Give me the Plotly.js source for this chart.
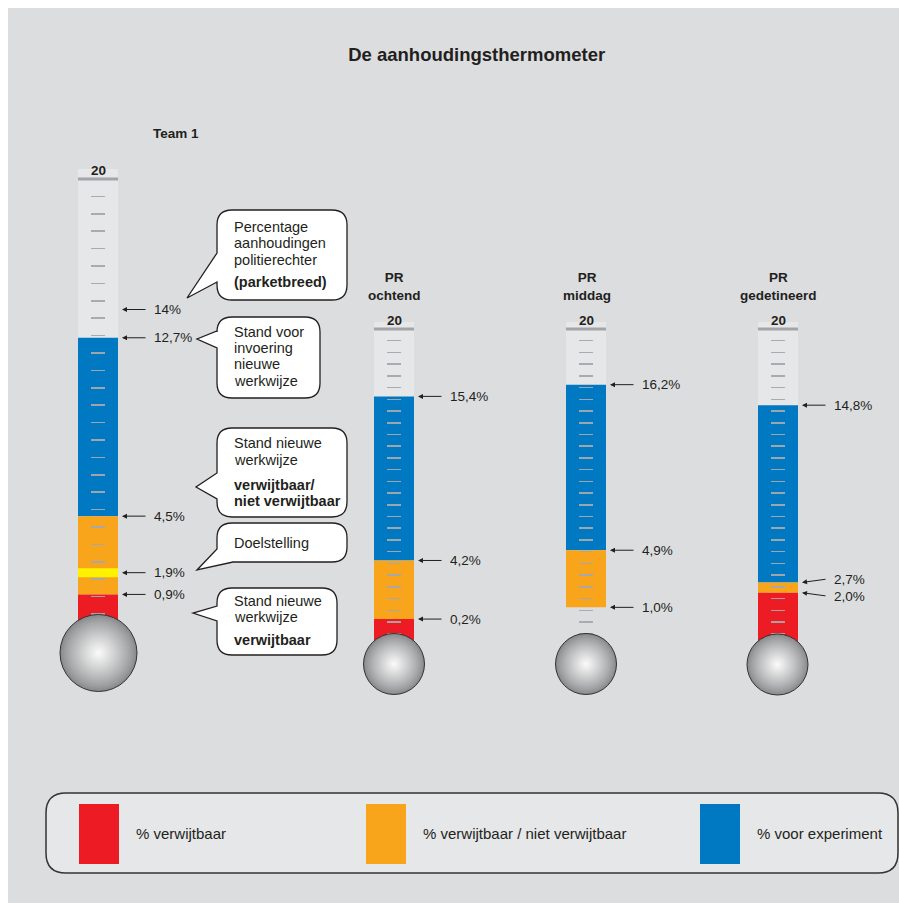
<!DOCTYPE html>
<html><head><meta charset="utf-8">
<script src="https://cdn.plot.ly/plotly-3.0.1.min.js"></script>
<style>html,body{margin:0;padding:0;background:#fff}</style>
</head><body><div id="chart" style="width:899px;height:903px"></div>
<script>
// ---------------- DATA ----------------
const categories = ["Team 1", "PR ochtend", "PR middag", "PR gedetineerd"];
const categoryTitles = ["Team 1", "PR<br>ochtend", "PR<br>middag", "PR<br>gedetineerd"];
const verwijtbaar      = [0.9, 0.2, null, 2.0];   // red: % verwijtbaar
const ondergrens       = [0.9, 0.2, 1.0, 2.0];    // bottom of orange band
const verwijtbaarNiet  = [4.5, 4.2, 4.9, 2.7];    // orange top: % verwijtbaar / niet verwijtbaar
const voorExperiment   = [12.7, 15.4, 16.2, 14.8];// blue top: % voor experiment
const doelstelling     = [1.9, null, null, null];
const parketbreed      = [14, null, null, null];
const scaleMax = 20;
const scaleStep = 0.8;
const chartTitle = "De aanhoudingsthermometer";
const legendLabels = ["% verwijtbaar", "% verwijtbaar / niet verwijtbaar", "% voor experiment"];
const calloutTexts = [
  [["Percentage", false], ["aanhoudingen", false], ["politierechter", false], ["(parketbreed)", true]],
  [["Stand voor", false], ["invoering", false], ["nieuwe", false], ["werkwijze", false]],
  [["Stand nieuwe", false], ["werkwijze", false], ["verwijtbaar/", true], ["niet verwijtbaar", true]],
  [["Doelstelling", false]],
  [["Stand nieuwe", false], ["werkwijze", false], ["verwijtbaar", true]]
];

// ---------------- STYLE / LAYOUT ----------------
const W = 899, H = 903;
const PX = x => x / W;
const PY = y => 1 - y / H;
const FONT = "Liberation Sans, Arial, Helvetica, sans-serif";
const TXT = "#231f20";
const C = {red: "#ed1c24", orange: "#f8a51b", blue: "#0079c2", yellow: "#fff200",
           tube: "#e6e7e8", bg: "#dcdddf", tick: "rgba(165,168,172,0.95)"};

const geom = [
  {x0: 78,  x1: 118, zero: 614, ppu: 21.75, top: 169, bottom: 632, bulb: [98.5, 653, 38.5], title: [176, 133]},
  {x0: 374, x1: 414, zero: 622, ppu: 14.65, top: 322, bottom: 646, bulb: [394, 664, 30.5], title: [394, 286.5]},
  {x0: 566, x1: 606, zero: 622, ppu: 14.65, top: 322, bottom: 646, bulb: [586, 664, 30.5], title: [586.5, 286.5]},
  {x0: 758, x1: 798, zero: 622, ppu: 14.65, top: 322, bottom: 646, bulb: [777.5, 664.5, 30.5], title: [778, 286.5]}
];
const MIN_LABEL_GAP = 17;

const callouts = [
  {box: [217, 210, 347, 300], ptr: {ya: 253, yb: 282, tx: 187, ty: 298}, lines: [226.5, 243, 260, 282]},
  {box: [217, 317, 320, 398], ptr: {ya: 331, yb: 348, tx: 197, ty: 339}, lines: [331.5, 348.3, 364.5, 380.7]},
  {box: [217, 428, 347, 517], ptr: {ya: 473, yb: 499, tx: 196, ty: 487}, lines: [443.3, 460, 485, 500.7]},
  {box: [217, 523, 347, 562], ptr: {ya: 549, bx: 233, tx: 197, ty: 570}, lines: [543]},
  {box: [217, 588, 337, 655], ptr: {ya: 606, yb: 621, tx: 193, ty: 613}, lines: [600.7, 616.7, 640]}
];

const legendGeom = {box: [46, 793, 898, 873], squares: [79, 366, 700], sqW: 40, sqY: [804, 864], textY: 833};

function P(x, y) { return PX(x).toFixed(5) + "," + PY(y).toFixed(5); }
function roundRect(x0, y0, x1, y1, r) {
  return "M" + P(x0 + r, y0) + " L" + P(x1 - r, y0) + " Q" + P(x1, y0) + " " + P(x1, y0 + r) +
    " L" + P(x1, y1 - r) + " Q" + P(x1, y1) + " " + P(x1 - r, y1) +
    " L" + P(x0 + r, y1) + " Q" + P(x0, y1) + " " + P(x0, y1 - r) +
    " L" + P(x0, y0 + r) + " Q" + P(x0, y0) + " " + P(x0 + r, y0) + " Z";
}
function bubble(b, p, r) {
  const [x0, y0, x1, y1] = b;
  let d = "M" + P(x0 + r, y0) + " L" + P(x1 - r, y0) + " Q" + P(x1, y0) + " " + P(x1, y0 + r) +
    " L" + P(x1, y1 - r) + " Q" + P(x1, y1) + " " + P(x1 - r, y1);
  if (p.bx !== undefined) {
    d += " L" + P(p.bx, y1) + " L" + P(p.tx, p.ty) + " L" + P(x0, p.ya);
  } else {
    d += " L" + P(x0 + r, y1) + " Q" + P(x0, y1) + " " + P(x0, y1 - r) +
      " L" + P(x0, p.yb) + " L" + P(p.tx, p.ty) + " L" + P(x0, p.ya);
  }
  d += " L" + P(x0, y0 + r) + " Q" + P(x0, y0) + " " + P(x0 + r, y0) + " Z";
  return d;
}
function mix(a, b, t) {
  const pa = [parseInt(a.slice(1,3),16), parseInt(a.slice(3,5),16), parseInt(a.slice(5,7),16)];
  const pb = [parseInt(b.slice(1,3),16), parseInt(b.slice(3,5),16), parseInt(b.slice(5,7),16)];
  return "rgb(" + pa.map((v, i) => Math.round(v + (pb[i] - v) * t)).join(",") + ")";
}
// spread label pixel offsets so that labels don't overlap (returns px shifts, + = down)
function spreadOffsets(pys, gap) {
  const idx = pys.map((p, i) => i).sort((a, b) => pys[a] - pys[b]);
  const pos = idx.map(i => pys[i]);
  for (let iter = 0; iter < 50; iter++) {
    let moved = false;
    for (let k = 1; k < pos.length; k++) {
      const d = pos[k] - pos[k - 1];
      if (d < gap) {
        const push = (gap - d) / 2;
        pos[k - 1] -= push; pos[k] += push; moved = true;
      }
    }
    if (!moved) break;
  }
  const out = new Array(pys.length);
  idx.forEach((i, k) => { out[i] = pos[k] - pys[i]; });
  return out;
}

const traces = [];
const shapes = [];
const annotations = [];
const layout = {
  width: W, height: H, margin: {l: 0, r: 0, t: 0, b: 0},
  paper_bgcolor: "#ffffff", plot_bgcolor: "rgba(0,0,0,0)",
  showlegend: false, barmode: "overlay",
  font: {family: FONT, color: TXT},
  title: {text: "<b>" + chartTitle + "</b>", x: PX(476.7), xanchor: "center", y: PY(55), yanchor: "middle",
          font: {family: FONT, size: 18.5, color: TXT}}
};

// page background
shapes.push({type: "rect", xref: "paper", yref: "paper", x0: PX(8), x1: 1, y0: 0, y1: PY(8),
  fillcolor: C.bg, line: {width: 0}, layer: "below"});

categories.forEach((cat, i) => {
  const g = geom[i];
  const sfx = i === 0 ? "" : String(i + 1);
  const xa = "x" + sfx, ya = "y" + sfx;
  const ymin = -(g.bottom - g.zero) / g.ppu;
  const ymax = (g.zero - g.top) / g.ppu;
  layout["xaxis" + sfx] = {domain: [PX(g.x0), PX(g.x1)], range: [-0.5, 0.5], visible: false,
    anchor: ya, fixedrange: true};
  layout["yaxis" + sfx] = {domain: [PY(g.bottom), PY(g.top)], range: [ymin, ymax],
    anchor: "free", position: PX((g.x0 + g.x1) / 2 + 7), side: "left",
    showline: false, showgrid: false, zeroline: false, showticklabels: false,
    ticks: "outside", ticklen: 14, tickwidth: 1.5, tickcolor: C.tick,
    tickmode: "linear", tick0: 0, dtick: scaleStep, layer: "above traces", fixedrange: true};

  const tubeStart = verwijtbaar[i] === null ? ondergrens[i] : ymin;
  const barBase = {type: "bar", x: [0], width: [1], xaxis: xa, yaxis: ya, hoverinfo: "skip",
    name: cat};
  traces.push(Object.assign({}, barBase, {base: [tubeStart], y: [ymax - tubeStart],
    marker: {color: C.tube, line: {width: 0}}}));
  traces.push(Object.assign({}, barBase, {base: [verwijtbaarNiet[i]], y: [voorExperiment[i] - verwijtbaarNiet[i]],
    marker: {color: C.blue, line: {width: 0}}}));
  traces.push(Object.assign({}, barBase, {base: [ondergrens[i]], y: [verwijtbaarNiet[i] - ondergrens[i]],
    marker: {color: C.orange, line: {width: 0}}}));
  if (verwijtbaar[i] !== null) {
    traces.push(Object.assign({}, barBase, {base: [ymin], y: [verwijtbaar[i] - ymin],
      marker: {color: C.red, line: {width: 0}}}));
  }
  if (doelstelling[i] !== null) {
    traces.push({type: "scatter", mode: "markers", x: [0], y: [doelstelling[i]], xaxis: xa, yaxis: ya,
      hoverinfo: "skip", marker: {symbol: "line-ew", size: 40 / 1.4, color: C.yellow,
      line: {width: 9, color: C.yellow}}});
  }

  // top scale line and label
  shapes.push({type: "line", xref: xa + " domain", yref: ya, x0: 0, x1: 1, y0: scaleMax, y1: scaleMax,
    line: {color: "#a3a5a8", width: 3}, layer: "above"});
  annotations.push({xref: "paper", yref: ya, x: PX((g.x0 + g.x1) / 2), y: scaleMax, yshift: 8,
    text: "<b>" + scaleMax + "</b>", showarrow: false, xanchor: "center", yanchor: "middle",
    font: {family: FONT, size: 13.5, color: TXT}});

  // category title
  annotations.push({xref: "paper", yref: "paper", x: PX(g.title[0]), y: PY(g.title[1]),
    text: "<b>" + categoryTitles[i] + "</b>", showarrow: false, xanchor: "center", yanchor: "middle",
    font: {family: FONT, size: 13.5, color: TXT}});

  // arrows + value labels
  const marks = [parketbreed[i], voorExperiment[i], verwijtbaarNiet[i], doelstelling[i], ondergrens[i]]
    .filter(v => v !== null);
  const offs = spreadOffsets(marks.map(v => g.zero - v * g.ppu), MIN_LABEL_GAP);
  marks.forEach((v, k) => {
    const off = offs[k];
    annotations.push({xref: "paper", yref: ya, x: PX(g.x1 + 4), y: v, ax: 25, ay: off,
      text: "", showarrow: true, arrowhead: 2, arrowsize: 1, arrowwidth: 1, arrowcolor: TXT});
    const lbl = v.toFixed(v === parketbreed[i] ? 0 : 1).replace(".", ",") + "%";
    annotations.push({xref: "paper", yref: ya, x: PX(g.x1 + 34), y: v, yshift: -off, text: lbl, showarrow: false,
      xanchor: "left", yanchor: "middle", font: {family: FONT, size: 13.5, color: TXT}});
  });

  // bulb (radial shading by concentric circles)
  const [cx, cy, r] = g.bulb;
  const N = 22;
  for (let k = 0; k < N; k++) {
    const rr = r * (1 - k / N);
    const t = Math.pow(k / (N - 1), 0.85);
    shapes.push({type: "circle", xref: "paper", yref: "paper",
      x0: PX(cx - rr), x1: PX(cx + rr), y0: PY(cy + rr), y1: PY(cy - rr),
      fillcolor: mix("#8a8b8d", "#f8f8f8", t), line: {width: 0}, layer: "above"});
  }
  shapes.push({type: "circle", xref: "paper", yref: "paper",
    x0: PX(cx - r), x1: PX(cx + r), y0: PY(cy + r), y1: PY(cy - r),
    fillcolor: "rgba(0,0,0,0)", line: {width: 1, color: "#333333"}, layer: "above"});
});

// callout bubbles
callouts.forEach((c, j) => {
  shapes.push({type: "path", xref: "paper", yref: "paper", path: bubble(c.box, c.ptr, 15),
    fillcolor: "#ffffff", line: {color: TXT, width: 1.3}, layer: "above"});
  calloutTexts[j].forEach((ln, k) => {
    annotations.push({xref: "paper", yref: "paper", x: PX(231.5), y: PY(c.lines[k]),
      text: ln[1] ? "<b>" + ln[0] + "</b>" : ln[0], showarrow: false, xanchor: "left", yanchor: "middle",
      font: {family: FONT, size: 14.5, color: TXT}});
  });
});

// legend
const lg = legendGeom;
shapes.push({type: "path", xref: "paper", yref: "paper",
  path: roundRect(lg.box[0], lg.box[1], lg.box[2], lg.box[3], 20),
  fillcolor: "#e6e7e8", line: {color: "#333333", width: 1.5}, layer: "above"});
const legendColors = [C.red, C.orange, C.blue];
legendLabels.forEach((t, k) => {
  const sx = lg.squares[k];
  shapes.push({type: "rect", xref: "paper", yref: "paper", x0: PX(sx), x1: PX(sx + lg.sqW),
    y0: PY(lg.sqY[1]), y1: PY(lg.sqY[0]), fillcolor: legendColors[k], line: {width: 0}, layer: "above"});
  annotations.push({xref: "paper", yref: "paper", x: PX(sx + 54.5), y: PY(lg.textY), text: t,
    showarrow: false, xanchor: "left", yanchor: "middle", font: {family: FONT, size: 15, color: TXT}});
});

layout.shapes = shapes;
layout.annotations = annotations;
Plotly.newPlot("chart", traces, layout, {displayModeBar: false, staticPlot: true});
</script>
</body></html>
